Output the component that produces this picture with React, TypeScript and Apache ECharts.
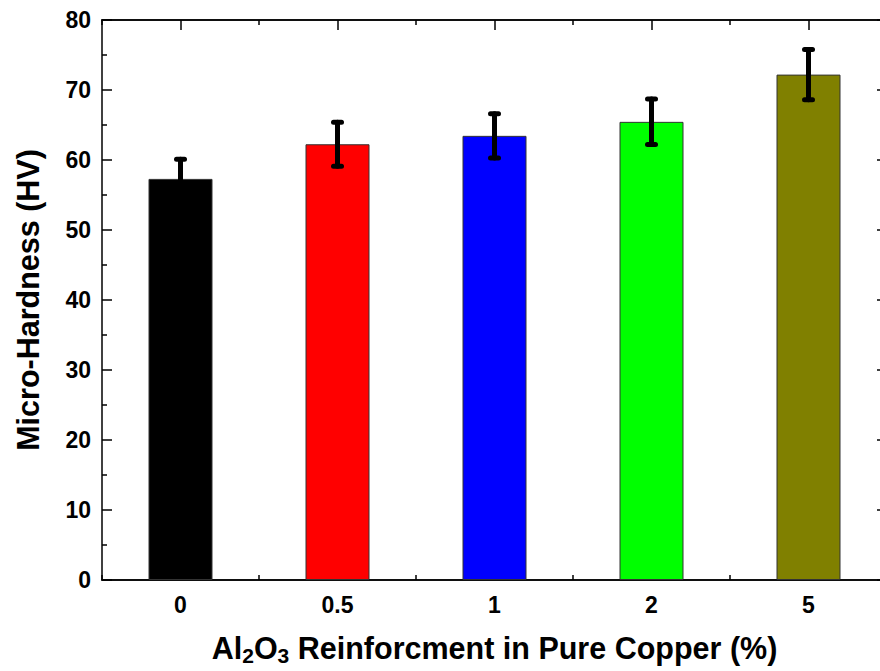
import React, { useEffect, useRef } from "react";
import * as echarts from "echarts";

const categories = ["0", "0.5", "1", "2", "5"];
const hardness = [57.3, 62.25, 63.45, 65.45, 72.2];
const errors = [2.8, 3.15, 3.15, 3.25, 3.6];
const barColors = ["#000000", "#ff0000", "#0000ff", "#00ff00", "#808000"];
const yMin = 0;
const yMax = 80;
const yInterval = 10;

const FONT = "'Liberation Sans', Arial, Helvetica, sans-serif";

export default function App() {
  const ref = useRef<HTMLDivElement>(null);

  useEffect(() => {
    if (!ref.current) return;
    const chart = echarts.init(ref.current, null, { renderer: "svg" });
    const lineStyle = { color: "#000", width: 1.5 };
    const labelStyle = {
      fontSize: 23,
      fontWeight: "bold" as const,
      fontFamily: FONT,
      color: "#000",
    };
    const catAxis = (position: "top" | "bottom", major: boolean, withLabel: boolean) => ({
      type: "category" as const,
      data: categories,
      position,
      boundaryGap: true,
      axisLine: { show: true, lineStyle },
      axisTick: {
        show: true,
        inside: true,
        alignWithLabel: major,
        interval: 0,
        length: major ? 10 : 5,
        lineStyle: { color: "#000", width: 1.5 },
      },
      axisLabel: withLabel ? { show: true, margin: 13, ...labelStyle } : { show: false },
      splitLine: { show: false },
    });
    const valAxis = (position: "left" | "right", withLabel: boolean) => ({
      type: "value" as const,
      min: yMin,
      max: yMax,
      interval: yInterval,
      position,
      axisLine: { show: true, lineStyle },
      axisTick: { show: true, inside: true, length: 10, lineStyle: { color: "#000", width: 1.5 } },
      minorTick: { show: true, splitNumber: 2, length: 5, lineStyle: { color: "#000", width: 1.5 } },
      splitLine: { show: false },
      minorSplitLine: { show: false },
      axisLabel: withLabel ? { show: true, margin: 11, ...labelStyle } : { show: false },
    });

    const xMain: any = catAxis("bottom", true, true);
    xMain.name = "{m|Al}{s|2}{m|O}{s|3}{m| Reinforcment in Pure Copper (%)}";
    xMain.nameLocation = "middle";
    xMain.nameGap = 50;
    xMain.nameTextStyle = {
      rich: {
        m: { fontSize: 30.5, fontWeight: "bold", fontFamily: FONT, color: "#000", lineHeight: 36 },
        s: { fontSize: 21, fontWeight: "bold", fontFamily: FONT, color: "#000", lineHeight: 17, verticalAlign: "bottom" },
      },
    };

    const yMain: any = valAxis("left", true);
    yMain.name = "Micro-Hardness (HV)";
    yMain.nameLocation = "middle";
    yMain.nameGap = 59;
    yMain.nameTextStyle = { fontSize: 30.5, fontWeight: "bold", fontFamily: FONT, color: "#000" };

    chart.setOption({
      animation: false,
      backgroundColor: "#ffffff",
      grid: { left: 102, right: 3, top: 20, bottom: 89, containLabel: false },
      xAxis: [xMain, catAxis("bottom", false, false), catAxis("top", true, false), catAxis("top", false, false)],
      yAxis: [yMain, valAxis("right", false)],
      series: [
        {
          type: "bar",
          xAxisIndex: 0,
          yAxisIndex: 0,
          barWidth: 64,
          data: hardness.map((v, i) => ({
            value: v,
            itemStyle: { color: barColors[i], borderColor: "#333", borderWidth: 1 },
          })),
          z: 2,
        },
        {
          type: "custom",
          xAxisIndex: 0,
          yAxisIndex: 0,
          z: 5,
          data: hardness.map((v, i) => [i, v - errors[i], v + errors[i]]),
          encode: { x: 0, y: [1, 2] },
          renderItem: (_params: any, api: any) => {
            const idx = api.value(0);
            const lo = api.coord([idx, api.value(1)]);
            const hi = api.coord([idx, api.value(2)]);
            const half = 4;
            const style = { stroke: "#000", lineWidth: 5, lineCap: "round" };
            return {
              type: "group",
              children: [
                { type: "line", shape: { x1: lo[0], y1: lo[1], x2: hi[0], y2: hi[1] }, style },
                { type: "line", shape: { x1: hi[0] - half, y1: hi[1], x2: hi[0] + half, y2: hi[1] }, style },
                { type: "line", shape: { x1: lo[0] - half, y1: lo[1], x2: lo[0] + half, y2: lo[1] }, style },
              ],
            };
          },
        },
      ],
    });
    return () => chart.dispose();
  }, []);

  return (
    <div style={{ position: "absolute", left: 0, top: 0, width: 880, height: 671, overflow: "hidden", background: "#fff" }}>
      <div ref={ref} style={{ width: 890, height: 671 }} />
    </div>
  );
}
